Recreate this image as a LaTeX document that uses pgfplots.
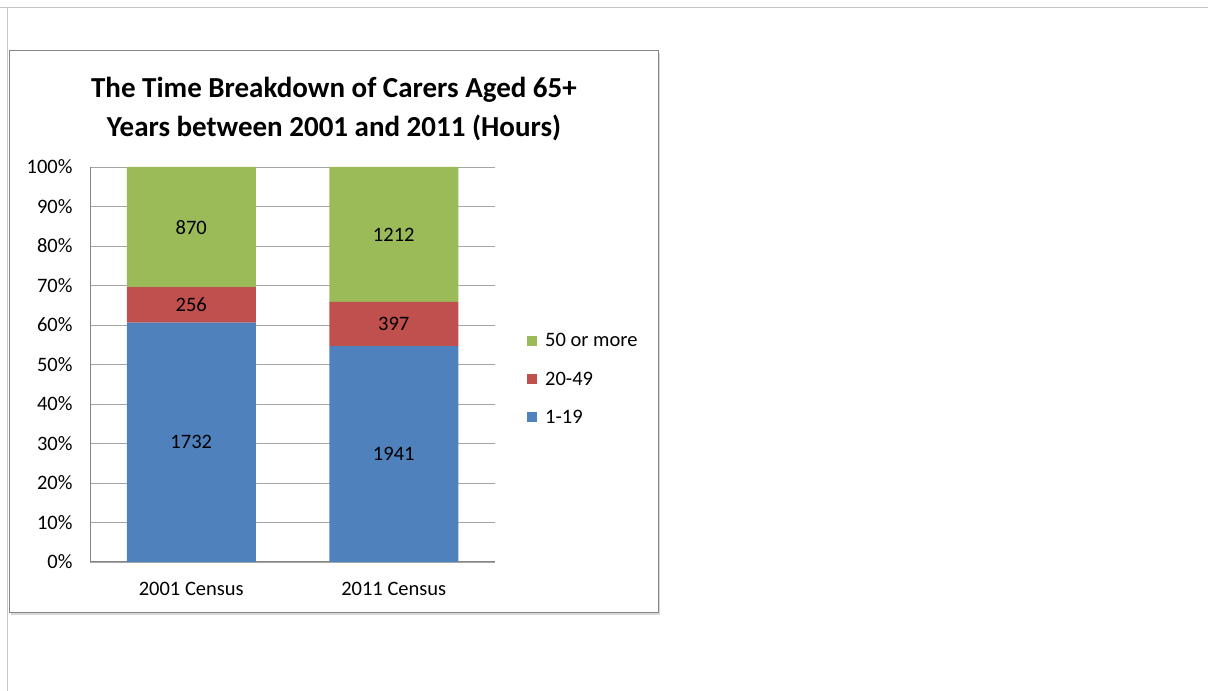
\documentclass[border=0pt]{standalone}
\usepackage{pgfplots}
\pgfplotsset{compat=1.18}
\usepackage{pgfplotstable}
\usepackage{fontspec}
\setmainfont{Carlito}
\definecolor{cblue}{RGB}{79,129,189}
\definecolor{cred}{RGB}{192,80,77}
\definecolor{cgreen}{RGB}{155,187,89}
\definecolor{gridc}{RGB}{165,165,165}
\definecolor{framec}{RGB}{134,134,134}

\pgfplotstableread{
x pct count
0 60.60 1732
1 54.68 1941
}\lowtbl
\pgfplotstableread{
x pct count
0 8.96 256
1 11.18 397
}\midtbl
\pgfplotstableread{
x pct count
0 30.44 870
1 34.14 1212
}\toptbl

\begin{document}
\begin{tikzpicture}
\useasboundingbox (0pt,0pt) rectangle (1208pt,691pt);
\fill[white] (0pt,0pt) rectangle (1208pt,691pt);
\draw[gray!45, line width=1pt] (0pt,683pt) -- (1208pt,683pt);
\draw[gray!45, line width=1pt] (7pt,683pt) -- (7pt,0pt);
\fill[gray!30] (11pt,76pt) rectangle (660pt,638pt);
\draw[framec, fill=white, line width=1pt] (9pt,78pt) rectangle (658pt,640pt);
\node[font=\fontsize{29}{39}\selectfont\bfseries, align=center] at (334pt,582pt) {The Time Breakdown of Carers Aged 65+\\Years between 2001 and 2011 (Hours)};
\begin{axis}[
  at={(90pt,129pt)}, anchor=south west,
  scale only axis, width=405pt, height=395pt,
  ybar stacked, bar width=129pt,
  xmin=-0.5, xmax=1.5, ymin=0, ymax=100,
  xtick={0,1}, xticklabels={2001 Census, 2011 Census},
  ytick={0,10,...,100},
  yticklabel={\pgfmathprintnumber{\tick}\%},
  /pgf/number format/assume math mode=true,
  tick label style={font=\fontsize{20.5}{24}\selectfont},
  yticklabel style={xshift=-14pt},
  xticklabel style={yshift=-17pt},
  major tick length=0pt,
  axis lines*=left,
  axis line style={-, draw=framec, line width=1pt},
  ymajorgrids, grid style={gridc, line width=0.8pt},
  nodes near coords, point meta=explicit symbolic,
  every node near coord/.append style={anchor=center, font=\fontsize{20.5}{24}\selectfont, text=black},
  reverse legend,
  legend image code/.code={\fill[#1] (0pt,-5pt) rectangle (10pt,5pt);},
  legend style={draw=none, fill=none, at={(1.079,0.463)}, anchor=west, font=\fontsize{20.5}{24}\selectfont, row sep=19.5pt, inner sep=0pt, /tikz/every even column/.append style={column sep=2pt}, /tikz/every odd column/.append style={column sep=6pt}},
  legend cell align=left,
]
\addplot[fill=cblue, draw=none] table[x=x, y=pct, meta=count] {\lowtbl};
\addplot[fill=cred, draw=none] table[x=x, y=pct, meta=count] {\midtbl};
\addplot[fill=cgreen, draw=none] table[x=x, y=pct, meta=count] {\toptbl};
\legend{1-19, 20-49, 50 or more}
\end{axis}
\end{tikzpicture}
\end{document}
